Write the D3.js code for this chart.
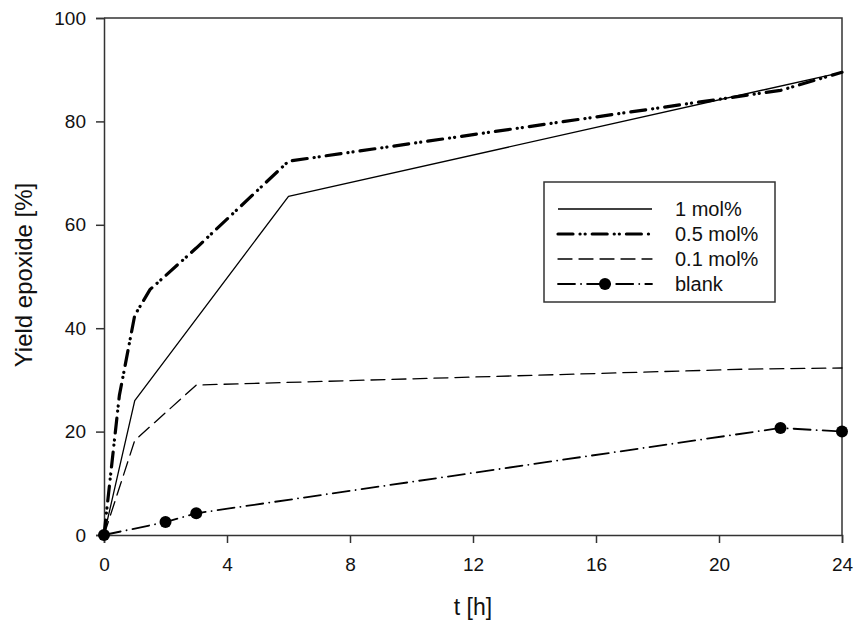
<!DOCTYPE html>
<html>
<head>
<meta charset="utf-8">
<script src="https://cdn.jsdelivr.net/npm/d3@7"></script>
<style>
  body { margin: 0; background: #fff; }
  svg { display: block; font-family: "Liberation Sans", Arial, sans-serif; }
</style>
</head>
<body>
<svg id="chart" width="853" height="622"></svg>
<script>
// data
var xTicks = [0, 4, 8, 12, 16, 20, 24];
var yTicks = [0, 20, 40, 60, 80, 100];

var t1 = [0, 1, 6, 24];
var y1 = [0, 26, 65.5, 89.5];

var t05 = [0, 0.5, 1, 1.5, 3, 6, 22, 24];
var y05 = [0, 27, 42.5, 47.5, 55.5, 72.3, 86, 89.5];

var t01 = [0, 1, 3, 21, 24];
var y01 = [0, 18.3, 29, 32.1, 32.3];

var tBlank = [0, 2, 3, 22, 24];
var yBlank = [0, 2.5, 4.2, 20.7, 20];

var seriesNames = ["1 mol%", "0.5 mol%", "0.1 mol%", "blank"];

function zip(ts, ys) {
    return ts.map(function(t, i) { return { t: t, y: ys[i] }; });
}

var series = [
    { name: seriesNames[0], data: zip(t1, y1), width: 1.3, dash: null, marker: false },
    { name: seriesNames[1], data: zip(t05, y05), width: 3.2, dash: "15,7,0.1,5,0.1,7", marker: false },
    { name: seriesNames[2], data: zip(t01, y01), width: 1.3, dash: "14,7", marker: false },
    { name: seriesNames[3], data: zip(tBlank, yBlank), width: 1.8, dash: "17,6,0.1,6", marker: true }
];

var svg = d3.select("#chart"),
    WIDTH = 853,
    HEIGHT = 622,
    MARGINS = { top: 18, right: 11, bottom: 87, left: 104 };

var xScale = d3.scaleLinear().domain([0, 24]).range([MARGINS.left, WIDTH - MARGINS.right]);
var yScale = d3.scaleLinear().domain([0, 100]).range([HEIGHT - MARGINS.bottom, MARGINS.top]);

// frame (top and right)
svg.append("path")
    .attr("d", "M" + xScale(0) + "," + yScale(100) + "H" + xScale(24) + "V" + yScale(0))
    .attr("fill", "none")
    .attr("stroke", "#333")
    .attr("stroke-width", 1.5);

var xAxis = d3.axisBottom(xScale).tickValues(xTicks).tickSize(8).tickPadding(15).tickFormat(d3.format("d"));
var yAxis = d3.axisLeft(yScale).tickValues(yTicks).tickSize(8).tickPadding(10).tickFormat(d3.format("d"));

var gx = svg.append("g")
    .attr("transform", "translate(0," + yScale(0) + ")")
    .call(xAxis);
var gy = svg.append("g")
    .attr("transform", "translate(" + xScale(0) + ",0)")
    .call(yAxis);

[gx, gy].forEach(function(g) {
    g.select(".domain").attr("stroke", "#333").attr("stroke-width", 1.5);
    g.selectAll(".tick line").attr("stroke", "#333").attr("stroke-width", 1.5);
    g.selectAll(".tick text")
        .attr("fill", "#111")
        .style("font-size", "19px")
        .style("font-family", "'Liberation Sans', Arial, sans-serif");
});

// axis titles
svg.append("text")
    .attr("x", xScale(12))
    .attr("y", 615)
    .attr("text-anchor", "middle")
    .attr("fill", "#111")
    .style("font-size", "23px")
    .text("t [h]");

svg.append("text")
    .attr("transform", "translate(32,275) rotate(-90)")
    .attr("text-anchor", "middle")
    .attr("fill", "#111")
    .style("font-size", "24px")
    .text("Yield epoxide [%]");

var lineGen = d3.line()
    .x(function(d) { return xScale(d.t); })
    .y(function(d) { return yScale(d.y); });

series.forEach(function(s) {
    svg.append("path")
        .attr("d", lineGen(s.data))
        .attr("fill", "none")
        .attr("stroke", "#000")
        .attr("stroke-width", s.width)
        .attr("stroke-linecap", s.dash ? "round" : "butt")
        .attr("stroke-linejoin", "round")
        .attr("stroke-dasharray", s.dash);
    if (s.marker) {
        svg.selectAll(null)
            .data(s.data)
            .enter()
            .append("circle")
            .attr("cx", function(d) { return xScale(d.t); })
            .attr("cy", function(d) { return yScale(d.y); })
            .attr("r", 6)
            .attr("fill", "#000");
    }
});

// legend
var legend = svg.append("g").attr("transform", "translate(544,182)");
legend.append("rect")
    .attr("width", 231)
    .attr("height", 120)
    .attr("fill", "#fff")
    .attr("stroke", "#333")
    .attr("stroke-width", 1.5);

series.forEach(function(s, i) {
    var yy = 27 + i * 25;
    legend.append("line")
        .attr("x1", 14)
        .attr("x2", 108)
        .attr("y1", yy)
        .attr("y2", yy)
        .attr("stroke", "#000")
        .attr("stroke-width", s.width)
        .attr("stroke-linecap", s.dash ? "round" : "butt")
        .attr("stroke-dasharray", s.dash);
    if (s.marker) {
        legend.append("circle")
            .attr("cx", 61)
            .attr("cy", yy)
            .attr("r", 6)
            .attr("fill", "#000");
    }
    legend.append("text")
        .attr("x", 131)
        .attr("y", yy + 7)
        .attr("fill", "#111")
        .style("font-size", "20px")
        .text(s.name);
});
</script>
</body>
</html>
